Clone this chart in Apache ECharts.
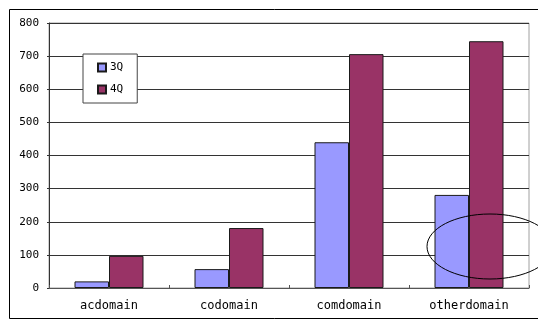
<!DOCTYPE html>
<html>
<head>
<meta charset="utf-8">
<script src="https://cdn.jsdelivr.net/npm/echarts@6/dist/echarts.min.js"></script>
<style>
html,body{margin:0;padding:0;background:#fff;overflow:hidden;}
#chart{width:538px;height:320px;}
</style>
</head>
<body>
<div id="chart"></div>
<script>
const categories = ['acdomain', 'codomain', 'comdomain', 'otherdomain'];
const series3Q = [20, 57, 440, 281];
const series4Q = [97, 181, 706, 745];
const seriesNames = ['3Q', '4Q'];
const yTicks = { min: 0, max: 800, interval: 100 };

const FONT = '"DejaVu Sans Mono", "Liberation Mono", monospace';
const chart = echarts.init(document.getElementById('chart'), null, { renderer: 'canvas' });
chart.setOption({
  backgroundColor: '#fff',
  animation: false,
  grid: { left: 49, top: 23, width: 480, height: 265, show: true, borderColor: '#a0a0a0', borderWidth: 1, backgroundColor: 'transparent' },
  legend: {
    orient: 'vertical',
    left: 83, top: 54,
    padding: [8, 14, 8, 14],
    itemGap: 11,
    itemWidth: 8, itemHeight: 8,
    icon: 'rect',
    borderColor: '#444', borderWidth: 1, backgroundColor: '#fff',
    textStyle: { fontFamily: FONT, fontSize: 11, color: '#000', padding: [0, 0, 0, -1] },
    data: seriesNames
  },
  xAxis: {
    type: 'category',
    data: categories,
    axisLine: { lineStyle: { color: '#555', width: 1 } },
    axisTick: { show: true, inside: true, length: 3, lineStyle: { color: '#555' } },
    axisLabel: { fontFamily: FONT, fontSize: 12, color: '#000', margin: 12 }
  },
  yAxis: {
    type: 'value',
    min: yTicks.min, max: yTicks.max, interval: yTicks.interval,
    axisLine: { show: true, lineStyle: { color: '#333', width: 1 } },
    axisTick: { show: true, length: 2, lineStyle: { color: '#333' } },
    axisLabel: { fontFamily: FONT, fontSize: 11, color: '#000', margin: 10 },
    splitLine: { show: true, lineStyle: { color: '#333', width: 1 } }
  },
  series: [
    {
      name: seriesNames[0], type: 'bar', data: series3Q,
      barGap: '0%', barCategoryGap: '42.5%',
      itemStyle: { color: '#9999FF', borderColor: '#1a1a1a', borderWidth: 1 }
    },
    {
      name: seriesNames[1], type: 'bar', data: series4Q,
      barGap: '0%', barCategoryGap: '42.5%',
      itemStyle: { color: '#993366', borderColor: '#1a1a1a', borderWidth: 1 }
    }
  ],
  graphic: [
    { type: 'rect', silent: true, z: 0, shape: { x: 9.5, y: 9.5, width: 700, height: 309 }, style: { fill: 'none', stroke: '#000', lineWidth: 1 } },
    { type: 'ellipse', silent: true, z: 100, shape: { cx: 490, cy: 246.5, rx: 63, ry: 32.5 }, style: { fill: 'none', stroke: '#000', lineWidth: 1 } }
  ]
});
</script>
</body>
</html>
